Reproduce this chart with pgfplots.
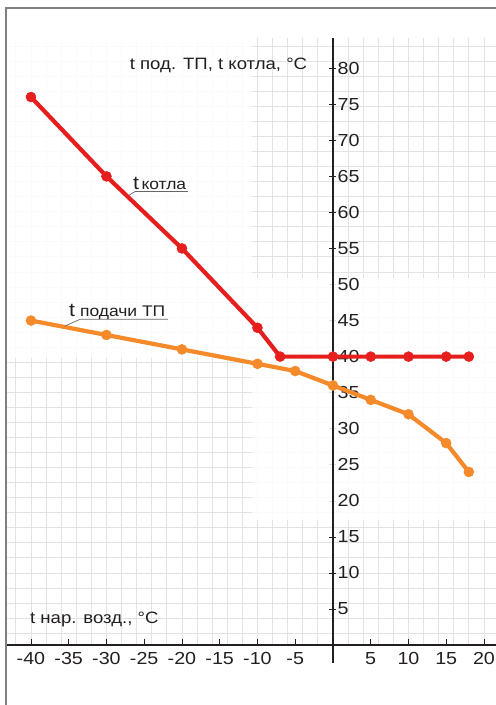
\documentclass[border=0pt]{standalone}
\usepackage{fontspec}
\setmainfont{Liberation Sans}[FakeStretch=1.13]
\usepackage{pgfplots}
\pgfplotsset{compat=1.18}
\definecolor{kred}{HTML}{E61E1E}
\definecolor{korange}{HTML}{F58A2A}
\definecolor{gridgray}{HTML}{E3E3E3}
\definecolor{ink}{HTML}{231F20}
\begin{document}
\begin{tikzpicture}
\begin{axis}[
    set layers,
    clip=false,
    x=7.55bp, y=7.21bp,
    xmin=-43.3, xmax=21.6, ymin=0, ymax=84.2,
    axis lines=middle,
    axis line style={-, ink, line width=1.1bp},
    y axis line style={shorten <=-18bp},
    xtick={-40,-35,...,-5,5,10,15,20},
    ytick={5,10,...,80},
    minor xtick={-42,-40,...,20},
    minor ytick={1.65,3.7374,...,83.1},
    xminorgrids=true, yminorgrids=true,
    minor grid style={gridgray, line width=0.8bp},
    minor tick length=0pt,
    major tick length=7bp,
    tick align=center,
    tick style={ink, line width=0.6bp},
    major x tick style={yshift=3bp},
    /pgf/number format/assume math mode=true,
    ticklabel style={font=\fontsize{17.5}{19}\selectfont, text=ink},
    yticklabel style={anchor=west, xshift=7bp, inner sep=1bp},
]
% washed-out patches of the scanned grid
\begin{pgfonlayer}{axis ticks}
\fill[white, opacity=0.85] (axis cs:-43.3,39.8) rectangle (axis cs:-10.73,84.2);
\fill[white, opacity=0.85] (axis cs:-10.73,39.8) rectangle (axis cs:21.6,50.9);
\fill[white, opacity=0.85] (axis cs:-10.73,17.34) rectangle (axis cs:21.6,39.8);
\end{pgfonlayer}

\addplot[korange, line width=4.2bp, mark=*, mark size=5bp, mark options={line width=0.5bp}]
    coordinates {(-40,45) (-30,43) (-20,41) (-10,39) (-5,38) (0,36) (5,34) (10,32) (15,28) (18,24)};
\addplot[kred, line width=4.2bp, mark=*, mark size=5bp, mark options={line width=0.5bp}]
    coordinates {(-40,76) (-30,65) (-20,55) (-10,44) (-7,40) (0,40) (5,40) (10,40) (15,40) (18,40)};

\node[anchor=base east, inner sep=0, text=ink, font=\fontsize{16.5}{18}\selectfont]
    at (axis cs:-3.4,79.85) {t под. ТП, t котла, °C};
\node[anchor=base west, inner sep=0, text=ink, font=\fontsize{16.5}{18}\selectfont]
    at (axis cs:-40.13,3.05) {t нар. возд., °C};

\node[anchor=base west, inner sep=0, text=ink] at (axis cs:-26.5,63.2)
    {{\fontsize{19}{20}\selectfont t}\hspace{2.5bp}{\fontsize{15.5}{17}\selectfont котла}};
\draw[black!60, line width=0.7bp] (axis cs:-26.98,62.4) -- (axis cs:-26.2,62.9) -- (axis cs:-19.2,62.9);
\node[anchor=base west, inner sep=0, text=ink] at (axis cs:-34.97,45.63)
    {{\fontsize{19}{20}\selectfont t}\hspace{5bp}{\fontsize{15.5}{17}\selectfont подачи ТП}};
\draw[black!60, line width=0.7bp] (axis cs:-35.5,44.24) -- (axis cs:-33.5,45.17) -- (axis cs:-21.85,45.17);

% page frame of the scan
\draw[black!50, line width=1.3bp] (axis cs:-43.3,-8.32) |- (axis cs:21.6,88.35);
\coordinate (bl) at (axis cs:-44.1,-8.32);
\coordinate (tr) at (axis cs:21.59,89.46);
\end{axis}
\pgfresetboundingbox
\path (bl) rectangle (tr);
\end{tikzpicture}
\end{document}
